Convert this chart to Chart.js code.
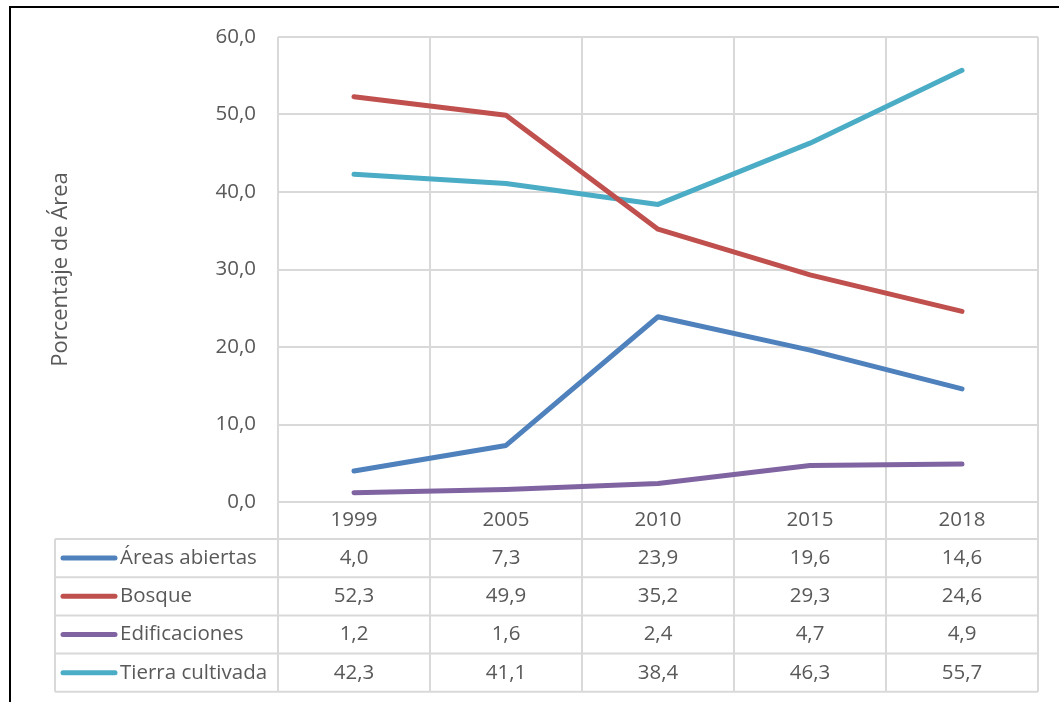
<!DOCTYPE html>
<html>
<head>
<meta charset="utf-8">
<script src="https://cdn.jsdelivr.net/npm/chart.js@4/dist/chart.umd.min.js"></script>
<style>
  html, body { margin: 0; padding: 0; background: #fff; }
  #wrap { position: relative; width: 1059px; height: 702px; overflow: hidden; }
  #frame { position: absolute; left: 9px; top: 6px; width: 1100px; height: 800px; border: 2px solid #000; box-sizing: border-box; }
  canvas { position: absolute; left: 0; top: 0; }
</style>
</head>
<body>
<div id="wrap">
  <div id="frame"></div>
  <canvas id="c" width="1059" height="702"></canvas>
</div>
<script>
const years = ['1999', '2005', '2010', '2015', '2018'];
const areasAbiertas = [4.0, 7.3, 23.9, 19.6, 14.6];
const bosque = [52.3, 49.9, 35.2, 29.3, 24.6];
const edificaciones = [1.2, 1.6, 2.4, 4.7, 4.9];
const tierraCultivada = [42.3, 41.1, 38.4, 46.3, 55.7];
const seriesNames = ['Áreas abiertas', 'Bosque', 'Edificaciones', 'Tierra cultivada'];
const seriesColors = ['#4f81bd', '#c0504d', '#8064a2', '#4bacc6'];

const FONT = '"Open Sans", "Noto Sans", sans-serif';
const FS = 20.5;
const TEXT = '#595959';
const GRID = '#d9d9d9';
const fmt = v => v.toFixed(1).replace('.', ',');

// Data table below the plot: rows of values aligned with the x scale
const dataTable = {
  id: 'dataTable',
  afterDraw(chart) {
    const ctx = chart.ctx;
    const x = chart.scales.x;
    const area = chart.chartArea;
    const headerH = 37;
    const rowH = 38.2;
    const tableLeft = 55;
    const top = area.bottom + headerH;
    const n = years.length;
    const step = (area.right - area.left) / n;
    ctx.save();
    ctx.strokeStyle = GRID;
    ctx.lineWidth = 2;
    const rows = [areasAbiertas, bosque, edificaciones, tierraCultivada];
    const bottom = top + rowH * rows.length;
    // horizontal rules
    for (let r = 0; r <= rows.length; r++) {
      const y = top + r * rowH;
      ctx.beginPath();
      ctx.moveTo(tableLeft, y);
      ctx.lineTo(area.right, y);
      ctx.stroke();
    }
    // vertical rules
    ctx.beginPath();
    ctx.moveTo(tableLeft, top);
    ctx.lineTo(tableLeft, bottom);
    ctx.stroke();
    for (let i = 0; i <= n; i++) {
      const xx = area.left + i * step;
      ctx.beginPath();
      ctx.moveTo(xx, area.bottom);
      ctx.lineTo(xx, bottom);
      ctx.stroke();
    }
    ctx.font = FS + 'px ' + FONT;
    ctx.textBaseline = 'middle';
    rows.forEach((vals, r) => {
      const cy = top + r * rowH + rowH / 2;
      // legend key
      ctx.strokeStyle = seriesColors[r];
      ctx.lineWidth = 5;
      ctx.lineCap = 'round';
      ctx.beginPath();
      ctx.moveTo(63, cy);
      ctx.lineTo(115, cy);
      ctx.stroke();
      ctx.fillStyle = TEXT;
      ctx.textAlign = 'left';
      ctx.fillText(seriesNames[r], 120, cy);
      ctx.textAlign = 'center';
      vals.forEach((v, i) => {
        ctx.fillText(fmt(v), x.getPixelForValue(i), cy);
      });
    });
    ctx.restore();
  }
};

const mk = (label, data, color) => ({
  label, data,
  borderColor: color,
  backgroundColor: color,
  borderWidth: 5,
  borderCapStyle: 'round',
  borderJoinStyle: 'round',
  pointRadius: 0,
  tension: 0
});

new Chart(document.getElementById('c'), {
  type: 'line',
  data: {
    labels: years,
    datasets: [
      mk(seriesNames[0], areasAbiertas, seriesColors[0]),
      mk(seriesNames[1], bosque, seriesColors[1]),
      mk(seriesNames[2], edificaciones, seriesColors[2]),
      mk(seriesNames[3], tierraCultivada, seriesColors[3])
    ]
  },
  options: {
    responsive: false,
    animation: false,
    events: [],
    layout: { padding: { left: 36, top: 37, right: 21, bottom: 163 } },
    plugins: { legend: { display: false }, tooltip: { enabled: false } },
    scales: {
      x: {
        offset: true,
        grid: { offset: true, color: GRID, lineWidth: 2, drawTicks: false },
        border: { display: false },
        ticks: { color: TEXT, font: { family: FONT, size: FS }, padding: 6 },
        afterFit(s) { s.height = 37; }
      },
      y: {
        min: 0, max: 60,
        ticks: { stepSize: 10, color: TEXT, font: { family: FONT, size: FS }, padding: 22,
                 callback: v => fmt(v) },
        grid: { color: GRID, lineWidth: 2, drawTicks: false },
        border: { display: false },
        title: { display: true, text: 'Porcentaje de Área', color: TEXT,
                 font: { family: FONT, size: 22 }, padding: { top: 12, bottom: 0 } },
        afterFit(s) { s.width = 278 - 36; }
      }
    }
  },
  plugins: [dataTable]
});
</script>
</body>
</html>
